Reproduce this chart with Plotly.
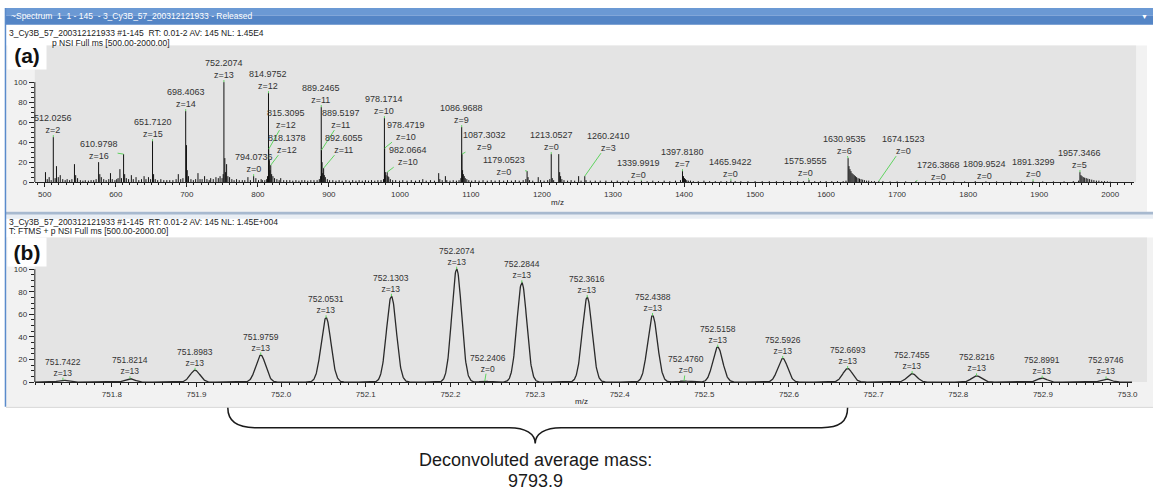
import numpy as np
import plotly.graph_objects as go

W, H = 1159, 495

# ---------------- panel (a): full-scan spectrum ----------------
# labelled centroids (m/z, charge, relative abundance %)
a_label_mz = [512.0256, 610.9798, 651.7120, 698.4063, 752.2074, 794.0736, 814.9752, 815.3095,
              818.1378, 889.2465, 889.5197, 892.6055, 978.1714, 978.4719, 982.0664, 1086.9688,
              1087.3032, 1179.0523, 1213.0527, 1260.2410, 1339.9919, 1397.8180, 1465.9422,
              1575.9555, 1630.9535, 1674.1523, 1726.3868, 1809.9524, 1891.3299, 1957.3466]
a_label_z = [2, 16, 15, 14, 13, 0, 12, 12, 12, 11, 11, 11, 10, 10, 10, 9, 9, 0, 0, 3, 0, 7, 0,
             0, 6, 0, 0, 0, 0, 5]
a_label_int = [45, 28, 41, 71, 100, 6, 89, 33, 17, 75, 32, 14, 64, 34, 10, 55, 28, 11, 28, 6,
               1.5, 11, 1.5, 2, 24, 1, 1, 1, 1, 10]

# unlabelled centroids
a_other_mz = [501.0, 503.5, 506.2, 509.0, 514.6, 516.5, 519.0, 521.8, 525.3, 528.7, 531.5, 535.0,
              538.2, 541.8, 543.5, 546.2, 550.1, 553.7, 557.0, 561.4, 565.2, 568.9, 572.3, 575.8,
              577.5, 579.6, 583.0, 586.4, 590.1, 592.5, 595.0, 598.8, 601.3, 603.2, 605.8, 608.0,
              612.5, 614.8, 618.0, 621.9, 624.6, 628.5, 632.4, 636.2, 639.8, 642.5, 646.0, 649.0,
              653.2, 655.5, 659.0, 663.4, 667.6, 671.8, 676.0, 680.4, 684.9, 688.0, 691.4, 694.5,
              699.5, 700.6, 702.3, 705.8, 709.2, 712.4, 715.7, 718.6, 721.5, 725.0, 728.3, 731.5,
              733.6, 737.2, 741.0, 744.3, 746.8, 749.6, 751.2, 753.5, 754.6, 756.0, 757.8, 760.2,
              763.4, 766.5, 770.0, 773.8, 778.1, 781.6, 786.0, 789.5, 797.2, 800.9, 804.6, 806.3,
              809.8, 812.4, 813.6, 816.2, 817.1, 819.4, 821.2, 823.5, 826.8, 830.0, 832.2, 836.4,
              840.6, 845.0, 849.2, 853.6, 857.8, 862.0, 866.0, 870.3, 874.6, 879.0, 883.4, 886.5,
              888.3, 890.4, 891.3, 893.6, 895.0, 897.8, 901.0, 905.5, 910.0, 914.4, 918.7, 924.0,
              928.7, 933.5, 938.1, 942.6, 947.0, 951.4, 955.8, 960.0, 964.6, 969.0, 973.4, 976.9,
              979.5, 980.4, 983.1, 984.3, 986.5, 989.8, 994.0, 999.5, 1004.0, 1010.0, 1016.0,
              1022.0, 1027.5, 1032.2, 1037.0, 1043.0, 1048.6, 1054.6, 1056.2, 1059.5, 1064.0,
              1066.0, 1070.5, 1075.0, 1079.5, 1083.2, 1085.8, 1088.2, 1089.3, 1090.6, 1092.0,
              1094.2, 1097.0, 1101.0, 1106.0, 1111.5, 1117.0, 1123.0, 1128.5, 1134.0, 1140.0,
              1146.0, 1151.5, 1157.0, 1162.5, 1168.0, 1173.5, 1177.2, 1180.4, 1182.5, 1187.0,
              1194.7, 1198.0, 1203.0, 1208.0, 1211.0, 1214.5, 1216.4, 1223.6, 1224.9, 1226.2,
              1228.0, 1231.0, 1236.0, 1241.0, 1246.0, 1251.6, 1255.0, 1262.0, 1268.0, 1275.0,
              1282.0, 1290.0, 1298.0, 1306.0, 1314.0, 1322.0, 1330.0, 1348.0, 1356.0, 1364.0,
              1372.0, 1380.0, 1388.0, 1395.0, 1399.2, 1400.6, 1402.0, 1403.8, 1406.0, 1409.0,
              1413.0, 1420.0, 1428.0, 1436.0, 1444.0, 1452.0, 1460.0, 1472.0, 1480.0, 1490.0,
              1500.0, 1510.0, 1520.0, 1530.0, 1540.0, 1550.0, 1560.0, 1568.0, 1584.0, 1592.0,
              1600.0, 1608.0, 1616.0, 1624.0, 1628.0, 1632.2, 1633.6, 1635.0, 1636.5, 1638.0,
              1639.6, 1641.2, 1643.0, 1645.0, 1647.0, 1649.2, 1651.5, 1654.0, 1657.0, 1660.0,
              1664.0, 1668.0, 1680.0, 1690.0, 1700.0, 1712.0, 1740.0, 1760.0, 1780.0, 1795.0,
              1825.0, 1840.0, 1860.0, 1875.0, 1905.0, 1920.0, 1935.0, 1948.0, 1955.5, 1958.8,
              1960.3, 1962.0, 1964.0, 1966.2, 1968.5, 1971.0, 1974.0, 1977.0, 1980.5, 1984.0,
              1988.0, 1992.0, 1996.0, 2000.0]
a_other_int = [10, 3, 5, 2, 4, 16, 5, 7, 3, 2, 3, 2,
               3, 18, 7, 4, 2, 1.5, 2, 1.5, 2, 2, 3, 20,
               8, 5, 3, 2, 3, 9, 3, 2, 3, 4, 13, 4,
               8, 4, 3, 7, 3, 5, 2, 3, 6, 3, 5, 3,
               8, 3, 2, 3, 2, 2, 2, 2, 3, 8, 3, 4,
               37, 12, 6, 3, 2, 3, 9, 3, 3, 6, 3, 2,
               4, 3, 5, 4, 6, 4, 8, 24, 10, 18, 6, 5,
               3, 2, 3, 2, 2, 2, 5, 2, 4, 2, 3, 2,
               2, 3, 6, 22, 12, 8, 6, 4, 3, 2, 4, 2,
               2, 2, 1.5, 2, 1.5, 2, 2, 1.5, 2, 2, 2, 3,
               6, 20, 9, 7, 5, 3, 2, 2, 1.5, 2, 1.5, 2,
               1.5, 2, 1.5, 2, 1.5, 2, 1.5, 2, 1.5, 2, 2, 3,
               10, 7, 6, 5, 3, 2, 2, 1.5, 2, 1.5, 2,
               1.5, 2, 3, 1.5, 2, 1.5, 9, 3, 2, 6,
               2, 1.5, 2, 1.5, 2, 4, 12, 8, 6, 4,
               3, 2, 1.5, 2, 1.5, 2, 1.5, 2, 1.5, 2,
               1.5, 2, 1.5, 2, 1.5, 2, 3, 5, 2, 1.5,
               5, 2, 1.5, 2, 3, 4, 2, 28, 10, 6,
               3, 2, 1.5, 2, 1.5, 6, 1.5, 2, 1.5, 1.5,
               1.5, 1.5, 1.5, 1.5, 1, 1.5, 1, 1, 1.5, 1,
               1.5, 1, 1.5, 2, 6, 4, 3, 2, 1.5, 1.5,
               1, 1, 1.5, 1, 1, 1, 1, 1, 1, 1,
               1, 1, 1, 1, 1, 1, 1, 1, 1, 1,
               1, 1, 1, 1, 1.5, 16, 13, 11, 9, 8,
               7, 6, 5, 4, 3.5, 3, 2.5, 2, 1.5, 1.5,
               1, 1, 1, 0.8, 0.8, 0.8, 0.8, 0.8, 0.8, 0.8,
               0.8, 0.8, 0.8, 0.8, 0.8, 0.8, 0.8, 1, 1.5, 7,
               6, 5, 4.5, 4, 3.5, 3, 2.5, 2, 1.5, 1.5,
               1, 1, 0.8, 0.5]

# ---------------- panel (b): zoom on the z=13 isotope cluster ----------------
b_mz = [751.7422, 751.8214, 751.8983, 751.9759, 752.0531, 752.1303, 752.2074, 752.2406,
        752.2844, 752.3616, 752.4388, 752.4760, 752.5158, 752.5926, 752.6693, 752.7455,
        752.8216, 752.8991, 752.9746]
b_z = [13, 13, 13, 13, 13, 13, 13, 0, 13, 13, 13, 0, 13, 13, 13, 13, 13, 13, 13]
b_int = [1.7, 3, 10.5, 24, 57, 76, 100, 0.8, 88, 75, 59, 1, 31, 21, 12, 7.5, 5.5, 3.5, 2.8]

a_ticks = list(range(500, 2001, 50))
b_ticks = [round(751.75 + 0.05 * i, 2) for i in range(26)]
y_ticks = [0, 20, 40, 60, 80, 100]

# label placement (pixel offsets of label centre from the peak apex)
a_offsets = {"610.9798": (-25, -4), "815.3095": (17, -30), "818.1378": (16, -21),
             "889.5197": (20, -31), "892.6055": (20, -24), "978.4719": (21, -17),
             "982.0664": (21, -16), "1087.3032": (23, -13), "1179.0523": (-23, -5),
             "1260.2410": (24, -34), "1339.9919": (-3, -12), "1575.9555": (-4, -13),
             "1630.9535": (-4, -13), "1674.1523": (25, -36), "1726.3868": (23, -10),
             "1809.9524": (9, -11)}
b_offsets = {"752.2406": (3, -18), "752.4760": (2, -16)}
DEFAULT_OFF = (0, -13)
PEAK_SIGMA = 0.0058  # profile peak width (m/z)

FONT = "Arial, Liberation Sans, sans-serif"
INK = "#222222"
GREEN = "#5fd35f"
DARK_BG = "#e4e4e4"
LIGHT_BG = "#f2f2f2"
BLUE = "#5a8bcb"


def fx(x):
    return x / W


def fy(y):
    return 1 - y / H


fig = go.Figure()

# stick spectrum for panel (a)
sx, sy = [], []
for m, h in zip(a_label_mz + a_other_mz, a_label_int + a_other_int):
    sx += [m, m, None]
    sy += [0, h, None]
fig.add_trace(go.Scatter(x=sx, y=sy, mode="lines", line=dict(color="#111111", width=1),
                         xaxis="x", yaxis="y", hoverinfo="skip"))

# profile spectrum for panel (b)
grid = np.arange(751.709, 753.006, 0.0004)
prof = np.zeros_like(grid)
for m, h in zip(b_mz, b_int):
    prof += h * np.exp(-0.5 * ((grid - m) / PEAK_SIGMA) ** 2)
fig.add_trace(go.Scatter(x=grid, y=prof, mode="lines", line=dict(color="#2a2a2a", width=1.3),
                         xaxis="x2", yaxis="y2", hoverinfo="skip"))

annotations = []


def peak_labels(mzs, zs, ints, offsets, xr, yr, size):
    for m, z, h in zip(mzs, zs, ints):
        key = f"{m:.4f}"
        ax, ay = offsets.get(key, DEFAULT_OFF)
        annotations.append(dict(
            x=m, y=h, xref=xr, yref=yr, text=f"{key}<br>z={z}",
            showarrow=True, arrowhead=0, arrowwidth=1, arrowcolor=GREEN,
            ax=ax, ay=ay, borderpad=0, borderwidth=0,
            font=dict(family=FONT, size=size, color="#333333")))


peak_labels(a_label_mz, a_label_z, a_label_int, a_offsets, "x", "y", 9)
peak_labels(b_mz, b_z, b_int, b_offsets, "x2", "y2", 8.5)


def text(x, y, s, size=8.5, color=INK, anchor="left", bold=False, **kw):
    annotations.append(dict(
        x=fx(x), y=fy(y), xref="paper", yref="paper", text=f"<b>{s}</b>" if bold else s,
        showarrow=False, xanchor=anchor, yanchor="middle",
        font=dict(family=FONT, size=size, color=color), **kw))


nb = "\u00a0"
text(9, 16.5, f"~Spectrum{nb}{nb}1{nb}{nb}1 - 145{nb}{nb}- 3_Cy3B_57_200312121933 - Released",
     size=8.5, color="white")
text(1150, 16.5, "▼", size=7, color="white", anchor="center")

text(7, 33, f"3_Cy3B_57_200312121933 #1-145{nb}{nb}RT: 0.01-2 AV: 145 NL: 1.45E4")
text(50, 43, "p NSI Full ms [500.00-2000.00]")
text(7, 224, f"3_Cy3B_57_200312121933 #1-145{nb}{nb}RT: 0.01-2 AV: 145 NL: 1.45E+004")
text(7, 233, "T: FTMS + p NSI Full ms [500.00-2000.00]")

for lab, top in (("(a)", 40), ("(b)", 239)):
    annotations.append(dict(
        x=fx(7), y=fy(top), xref="paper", yref="paper", text=f"<b>{lab}</b>",
        showarrow=False, xanchor="left", yanchor="top", width=38, height=28,
        bgcolor="white", borderpad=0, align="center", valign="middle",
        font=dict(family=FONT, size=21, color="#111111")))

text(560, 205, "m/z", size=8, anchor="center")
text(585, 406, "m/z", size=8, anchor="center")

text(538, 465, "Deconvoluted average mass:", size=18, anchor="center", color="#1a1a1a")
text(538, 486, "9793.9", size=18, anchor="center", color="#1a1a1a")


def rect(x0, y0, x1, y1, color, layer="below"):
    return dict(type="rect", xref="paper", yref="paper", x0=fx(x0), x1=fx(x1),
                y0=fy(y1), y1=fy(y0), fillcolor=color, line=dict(width=0), layer=layer)


shapes = [
    rect(5, 8, 1159, 16, "#6b99d4"),
    rect(5, 16, 1159, 25, "#5485c6"),
    rect(6, 46, 1153, 214, LIGHT_BG),
    rect(35, 46, 1142, 184, DARK_BG),
    rect(6, 214, 1159, 217, "#a7b9cf"),
    rect(6, 217, 1159, 221, "#e9eef4"),
    rect(6, 240, 1159, 411, LIGHT_BG),
    rect(35, 240, 1153, 386, DARK_BG),
    dict(type="line", xref="paper", yref="paper", x0=fx(5.5), x1=fx(5.5), y0=fy(8), y1=fy(411),
         line=dict(color=BLUE, width=1.5), layer="below"),
    dict(type="line", xref="paper", yref="paper", x0=fx(6), x1=fx(1159), y0=fy(411.5),
         y1=fy(411.5), line=dict(color="#d5d5d5", width=1), layer="below"),
    # y-axis spines drawn only over the 0-100 scale
    dict(type="line", xref="paper", yref="y", x0=fx(35), x1=fx(35), y0=0, y1=100,
         line=dict(color=INK, width=1)),
    dict(type="line", xref="paper", yref="y2", x0=fx(35), x1=fx(35), y0=0, y1=100,
         line=dict(color=INK, width=1)),
]

# curly brace under the isotope cluster
brace_pts = "M 229,412 C 229,426 238,432 256,432 L 512,432 C 528,432 538,438 538,448 " \
            "C 538,438 548,432 564,432 L 826,432 C 844,432 852,426 852,412"
parts = []
for tok in brace_pts.split():
    if "," in tok:
        a, b = tok.split(",")
        parts.append(f"{fx(float(a)):.5f},{fy(float(b)):.5f}")
    else:
        parts.append(tok)
shapes.append(dict(type="path", xref="paper", yref="paper", path=" ".join(parts),
                   line=dict(color="#1a1a1a", width=1.5)))


def xaxis(domain, rng, ticks, fmt, minor_vals, anchor):
    return dict(domain=domain, range=rng, anchor=anchor, tickmode="array", tickvals=ticks,
                ticktext=[fmt(v) for v in ticks], ticks="outside", ticklen=4, tickwidth=1,
                tickcolor=INK, showline=True, linecolor=INK, linewidth=1, showgrid=False,
                zeroline=False, tickfont=dict(family=FONT, size=8, color="#333333"),
                minor=dict(tickmode="array", tickvals=minor_vals, ticks="outside", ticklen=2,
                           tickwidth=1, tickcolor=INK, showgrid=False),
                fixedrange=True)


def yaxis(domain, rng, anchor):
    return dict(domain=domain, range=rng, anchor=anchor, tickmode="array", tickvals=y_ticks,
                ticks="outside", ticklen=5, tickwidth=1, tickcolor=INK, showline=False,
                showgrid=False, zeroline=False,
                tickfont=dict(family=FONT, size=8, color="#333333"),
                minor=dict(tickmode="array", tickvals=list(range(5, 100, 5)), ticks="outside",
                           ticklen=3, tickwidth=1, tickcolor=INK, showgrid=False),
                fixedrange=True)


fig.update_layout(
    width=W, height=H, autosize=False, margin=dict(l=0, r=0, t=0, b=0, pad=0),
    paper_bgcolor="white", plot_bgcolor="rgba(0,0,0,0)", showlegend=False,
    font=dict(family=FONT, color=INK),
    xaxis=xaxis([fx(35), fx(1140)], [486.0, 2033.6], a_ticks,
                lambda v: str(v) if v % 100 == 0 else "",
                list(range(490, 2031, 10)), "y"),
    yaxis=yaxis([fy(184), fy(46)], [0, 136.6], "x"),
    xaxis2=xaxis([fx(35), fx(1138)], [751.709, 753.0054], b_ticks,
                 lambda v: f"{v:.1f}" if abs(v * 10 - round(v * 10)) < 1e-6 else "",
                 [round(751.71 + 0.01 * i, 2) for i in range(130)], "y2"),
    yaxis2=yaxis([fy(386), fy(240)], [0, 128], "x2"),
    annotations=annotations,
    shapes=shapes,
)

fig.write_html("out.html", config={"displayModeBar": False, "staticPlot": True})
